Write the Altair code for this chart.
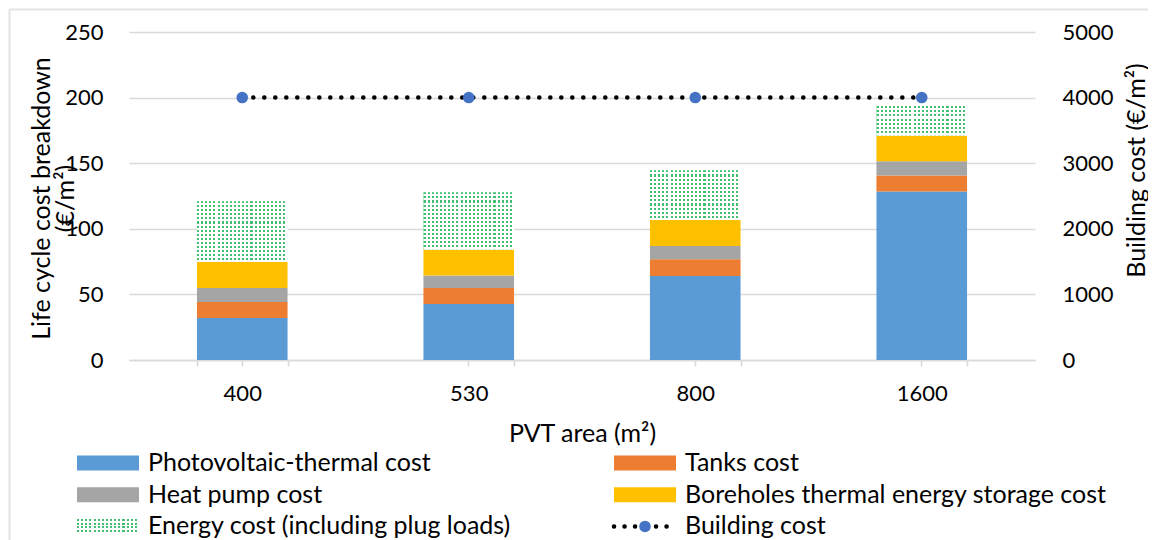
import altair as alt
import pandas as pd

# ---------------- data ----------------
areas = ["400", "530", "800", "1600"]
series = [
    "Photovoltaic-thermal cost",
    "Tanks cost",
    "Heat pump cost",
    "Boreholes thermal energy storage cost",
    "Energy cost (including plug loads)",
]
pvt_cost = [32.0, 42.6, 64.0, 128.5]
tanks_cost = [12.2, 12.2, 12.8, 12.2]
heat_pump_cost = [10.7, 9.7, 10.1, 10.7]
btes_cost = [19.8, 19.8, 19.8, 19.8]
energy_cost = [46.3, 43.5, 37.9, 22.4]
building_cost = [4000, 4000, 4000, 4000]
building_label = "Building cost"
left_ticks = [0, 50, 100, 150, 200, 250]
right_ticks = [0, 1000, 2000, 3000, 4000, 5000]

# ---------------- style ----------------
FONT = "Lato"
FS = 22      # numbers
FT = 25      # words
GRID = "#d9d9d9"
colors = ["#5b9bd5", "#ed7d31", "#a5a5a5", "#ffc000", "#ffffff"]
DOT_GREEN = "#3fbf6f"
W, H = 906, 328

values = [pvt_cost, tanks_cost, heat_pump_cost, btes_cost, energy_cost]
rows = []
for si, s in enumerate(series):
    for ai, a in enumerate(areas):
        rows.append({"area": a, "series": s, "idx": si, "value": values[si][ai]})
df = pd.DataFrame(rows)
line_df = pd.DataFrame({"area": areas, "cost": building_cost})
legend_df = pd.DataFrame({
    "series": series + [building_label],
    "idx": list(range(len(series) + 1)),
})
legend_df["col"] = legend_df["idx"] % 2
legend_df["row"] = legend_df["idx"] // 2


def stripes(n, c_on, c_off, frac, along_x):
    stops = []
    for k in range(n):
        a, b, c = k / n, (k + frac) / n, (k + 1) / n
        stops += [
            {"color": c_on, "offset": a},
            {"color": c_on, "offset": b},
            {"color": c_off, "offset": b},
            {"color": c_off, "offset": c},
        ]
    g = {"gradient": "linear", "stops": stops, "x1": 0, "y1": 0}
    if along_x:
        g.update({"x2": 1, "y2": 0})
    else:
        g.update({"x2": 0, "y2": 1})
    return g


CLEAR = "rgba(255,255,255,0)"

# ---------------- axes & scales ----------------
xscale = alt.Scale(domain=areas, paddingInner=0.6, paddingOuter=0.3)
axis_main = alt.Axis(
    orient="bottom", title="PVT area (m²)", labelAngle=0, grid=False,
    domainColor=GRID, domainWidth=1.5, tickColor=GRID, tickWidth=1.5,
    tickSize=6, tickBand="extent", labelPadding=17, titlePadding=17,
    labelFontSize=FS, titleFontSize=FT,
)
axis_center = alt.Axis(
    orient="bottom", title=None, labels=False, domain=False, grid=False,
    ticks=True, tickSize=6, tickColor=GRID, tickWidth=1.5, tickBand="center",
)
axis_left = alt.Axis(
    orient="left", values=left_ticks, grid=True, gridColor=GRID, gridWidth=1.5,
    domain=False, ticks=False, labelPadding=26, labelFontSize=FS,
    title=["Life cycle cost breakdown", "(€/m²)"], titleFontSize=FT,
    titleAngle=270, titleX=-100, titleY=166, titleBaseline="top",
    titleAlign="center", titleLineHeight=24,
)
axis_right = alt.Axis(
    orient="right", values=right_ticks, format="d", grid=False, domain=False,
    ticks=False, labelPadding=27, labelFontSize=FS,
    title="Building cost (€/m²)", titleFontSize=FT, titleAngle=270,
    titleX=89, titleY=138, titleBaseline="top", titleAlign="center",
)

X_main = alt.X("area:N", scale=xscale, sort=areas, axis=axis_main)
Y_main = alt.Y("y1:Q", scale=alt.Scale(domain=[0, 250], nice=False), axis=axis_left)
colscale = alt.Scale(domain=series + [building_label], range=colors + ["#4472c4"])

base = alt.Chart(df).transform_stack(
    stack="value", groupby=["area"], as_=["y0", "y1"],
    sort=[alt.SortField("idx", order="ascending")],
)

bars = base.mark_bar().encode(
    x=X_main, y=Y_main, y2=alt.Y2("y0"),
    color=alt.Color("series:N", scale=colscale, legend=None),
)
energy_cols = base.transform_filter(alt.datum.idx == 4).mark_bar(
    fill=stripes(22, DOT_GREEN, "#ffffff", 0.5, True)
).encode(x=X_main, y=Y_main, y2=alt.Y2("y0"))

energy_rows = []
for a, e in zip(areas, energy_cost):
    n = max(2, round(e * H / 250 / 4))
    energy_rows.append(
        base.transform_filter((alt.datum.idx == 4) & (alt.datum.area == a))
        .mark_bar(fill=stripes(n, CLEAR, "#ffffff", 0.5, False))
        .encode(x=X_main, y=Y_main, y2=alt.Y2("y0"))
    )

# ---------------- legend (drawn below the plot) ----------------
leg = (
    alt.Chart(legend_df)
    .transform_calculate(cx="datum.col == 0 ? -21 : 516")
    .transform_calculate(cy="431 + datum.row * 31.7")
    .transform_calculate(tx="datum.col == 0 ? 19 : 556")
    .transform_calculate(xl="datum.cx - 31", xr="datum.cx + 31")
    .transform_calculate(yt="datum.cy - 7.5", yb="datum.cy + 7.5")
)
LX = alt.X("xl:Q", scale=None, axis=None)
LY = alt.Y("yt:Q", scale=None, axis=None)
leg_sw = leg.transform_filter(alt.datum.idx < 5).mark_rect().encode(
    x=LX, x2=alt.X2("xr"), y=LY, y2=alt.Y2("yb"),
    color=alt.Color("series:N", scale=colscale, legend=None),
)
leg_e1 = leg.transform_filter(alt.datum.idx == 4).mark_rect(
    fill=stripes(15, DOT_GREEN, "#ffffff", 0.5, True)
).encode(x=LX, x2=alt.X2("xr"), y=LY, y2=alt.Y2("yb"))
leg_e2 = leg.transform_filter(alt.datum.idx == 4).mark_rect(
    fill=stripes(4, CLEAR, "#ffffff", 0.5, False)
).encode(x=LX, x2=alt.X2("xr"), y=LY, y2=alt.Y2("yb"))
leg_line = leg.transform_filter(alt.datum.idx == 5).mark_rule(
    color="black", strokeWidth=4.5, strokeCap="round", strokeDash=[0.1, 10.4]
).encode(x=LX, x2=alt.X2("xr"), y=alt.Y("cy:Q", scale=None, axis=None))
leg_pt = leg.transform_filter(alt.datum.idx == 5).mark_point(
    filled=True, size=133, color="#4472c4", opacity=1
).encode(x=alt.X("cx:Q", scale=None, axis=None), y=alt.Y("cy:Q", scale=None, axis=None))
leg_txt = leg.mark_text(
    align="left", baseline="middle", font=FONT, fontSize=FT, color="black"
).encode(
    x=alt.X("tx:Q", scale=None, axis=None),
    y=alt.Y("cy:Q", scale=None, axis=None),
    text="series:N",
)

frame = alt.Chart(pd.DataFrame({"k": [0]}))
frame_left = frame.mark_rule(color="#e3e3e3", strokeWidth=2).encode(
    x=alt.value(-119.5), y=alt.value(-22.5), y2=alt.value(520)
)
frame_top = frame.mark_rule(color="#e3e3e3", strokeWidth=2).encode(
    x=alt.value(-119.5), x2=alt.value(1040), y=alt.value(-22.5)
)

bars_group = alt.layer(
    bars, energy_cols, *energy_rows,
    leg_sw, leg_e1, leg_e2, leg_line, leg_pt, leg_txt, frame_left, frame_top,
)

# ---------------- building cost line ----------------
X_line = alt.X("area:N", scale=xscale, sort=areas, axis=axis_center)
Y_right = alt.Y("cost:Q", scale=alt.Scale(domain=[0, 5000], nice=False), axis=axis_right)
line = alt.Chart(line_df).mark_line(
    color="black", strokeWidth=4.5, strokeCap="round", strokeDash=[0.1, 10.9]
).encode(x=X_line, y=Y_right)
pts = alt.Chart(line_df).mark_point(
    filled=True, size=133, color="#4472c4", opacity=1
).encode(x=X_line, y=Y_right)
line_group = alt.layer(line, pts)

chart = (
    alt.layer(bars_group, line_group)
    .resolve_scale(y="independent")
    .resolve_axis(x="independent")
    .properties(
        width=W, height=H,
        autosize=alt.AutoSizeParams(type="none"),
        padding={"left": 121, "top": 24, "right": 113, "bottom": 180},
        background="white",
    )
    .configure_view(strokeWidth=0)
    .configure_axis(
        labelFont=FONT, labelColor="black",
        titleFont=FONT, titleColor="black", titleFontWeight="normal",
    )
)

chart.save("out.html", embed_options={"renderer": "svg", "actions": False})
